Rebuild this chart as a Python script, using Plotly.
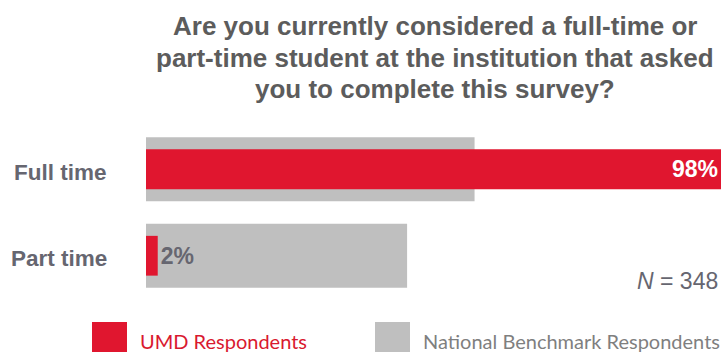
import plotly.graph_objects as go

# Survey responses (percent of respondents)
categories = ["Full time", "Part time"]
umd_pct = [98, 2]
national_pct = [56, 44.5]
n_respondents = 348

title_lines = [
    "Are you currently considered a full-time or",
    "part-time student at the institution that asked",
    "you to complete this survey?",
]
series_names = ["UMD Respondents", "National Benchmark Respondents"]

RED = "#e0162f"
GRAY = "#bfbfbf"
TEXT_GRAY = "#666670"
FONT = "Liberation Sans, Arial"

W, H = 723, 352
ML, MR, MT, MB = 146, 2, 126, 53
PW, PH = W - ML - MR, H - MT - MB


def px_x(px):
    return (px - ML) / PW


def px_y(py):
    return (H - MB - py) / PH


fig = go.Figure()

fig.add_trace(go.Bar(
    y=categories, x=national_pct, orientation="h",
    marker=dict(color=GRAY, line=dict(width=0)),
    width=0.74, name=series_names[1], showlegend=False,
    hoverinfo="skip",
))

fig.add_trace(go.Bar(
    y=categories, x=umd_pct, orientation="h",
    marker=dict(color=RED, line=dict(width=0)),
    width=0.46, name=series_names[0], showlegend=False,
    texttemplate="<b>%{x}%</b>",
    textposition=["inside", "outside"],
    insidetextanchor="end",
    insidetextfont=dict(color="white", size=23, family=FONT),
    outsidetextfont=dict(color=TEXT_GRAY, size=23, family=FONT),
    cliponaxis=False,
    hoverinfo="skip",
))

fig.update_layout(
    width=W, height=H,
    margin=dict(l=ML, r=MR, t=MT, b=MB, pad=0),
    paper_bgcolor="white", plot_bgcolor="white",
    barmode="overlay",
    xaxis=dict(range=[0, 98], visible=False, fixedrange=True),
    yaxis=dict(
        categoryorder="array", categoryarray=categories,
        autorange="reversed",
        showgrid=False, zeroline=False, showline=False, ticks="",
        showticklabels=False,
    ),
    showlegend=False,
)

# Category labels to the left of the bars
for cat in categories:
    fig.add_annotation(
        text=f"<b>{cat}</b>", xref="paper", yref="y", x=px_x(109), y=cat,
        xanchor="right", yanchor="middle", yshift=-3, showarrow=False,
        font=dict(family=FONT, size=22.5, color=TEXT_GRAY),
    )

# Title block, one line at a time
for line, cy in zip(title_lines, [26, 57.5, 89]):
    fig.add_annotation(
        text=f"<b>{line}</b>",
        xref="paper", yref="paper", x=px_x(435), y=px_y(cy),
        xanchor="center", yanchor="middle", showarrow=False,
        font=dict(family=FONT, size=26, color="#5c5c5c"),
    )

# Sample size note
fig.add_annotation(
    text=f"<i>N</i> = {n_respondents}",
    xref="paper", yref="paper", x=px_x(720), y=px_y(280.5),
    xanchor="right", yanchor="middle", showarrow=False,
    font=dict(family=FONT, size=23, color=TEXT_GRAY),
)

# Legend swatches and labels
legend_items = [
    (series_names[0], RED, "#d9192f", 92, 127, 138),
    (series_names[1], GRAY, "#7f7f7f", 375, 410, 421),
]
for name, swatch, tcolor, x0, x1, tx in legend_items:
    fig.add_shape(
        type="rect", xref="paper", yref="paper",
        x0=px_x(x0), x1=px_x(x1), y0=px_y(322), y1=px_y(356),
        fillcolor=swatch, line=dict(width=0),
    )
    fig.add_annotation(
        text=name, xref="paper", yref="paper", x=px_x(tx), y=px_y(341),
        xanchor="left", yanchor="middle", showarrow=False,
        font=dict(family="Lato", size=20, color=tcolor),
    )

fig.write_html("out.html")
